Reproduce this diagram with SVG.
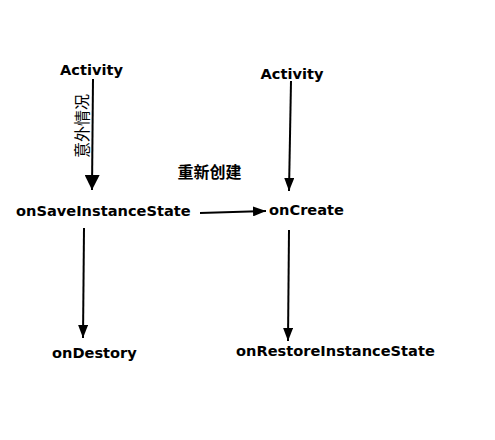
<svg xmlns="http://www.w3.org/2000/svg" width="495" height="440" viewBox="0 0 495 440">
<style>
.lbl{font-family:"DejaVu Sans","Liberation Sans",sans-serif;font-weight:bold;font-size:14.6px;fill:#000}
.cjk{font-family:"Noto Sans CJK SC",sans-serif;font-size:16px;fill:#000}
.edge{stroke:#000;stroke-width:2;fill:none}
</style>
<defs>
<marker id="ah" markerUnits="userSpaceOnUse" markerWidth="14" markerHeight="10" refX="13" refY="5" orient="auto">
<path d="M0,0 L13,5 L0,10 Z" fill="#000"/>
</marker>
<marker id="ahBig" markerUnits="userSpaceOnUse" markerWidth="16" markerHeight="15" refX="15" refY="7.5" orient="auto">
<path d="M0,0 L15,7.5 L0,15 Z" fill="#000"/>
</marker>
</defs>
<rect width="495" height="440" fill="#fff"/>
<g id="connectors">
<path class="edge" d="M93,79 L92,190" marker-end="url(#ahBig)"/>
<path class="edge" d="M291,81 L289,191" marker-end="url(#ah)"/>
<path class="edge" d="M200,213 L266,211" marker-end="url(#ah)"/>
<path class="edge" d="M84,228 L83,338" marker-end="url(#ah)"/>
<path class="edge" d="M289,230 L288,341" marker-end="url(#ah)"/>
<text class="cjk" transform="translate(88,126) rotate(-90)" text-anchor="middle">意外情况</text>
<text class="cjk" x="209.5" y="178" text-anchor="middle" font-weight="bold" font-size="16.5">重新创建</text>
</g>
<g id="activity1"><text class="lbl" x="91.5" y="75" text-anchor="middle">Activity</text></g>
<g id="activity2"><text class="lbl" x="292" y="79" text-anchor="middle">Activity</text></g>
<g id="onSaveInstanceState"><text class="lbl" x="16" y="216">onSaveInstanceState</text></g>
<g id="onCreate"><text class="lbl" x="269" y="215">onCreate</text></g>
<g id="onDestory"><text class="lbl" x="52" y="358">onDestory</text></g>
<g id="onRestoreInstanceState"><text class="lbl" x="236" y="356">onRestoreInstanceState</text></g>
</svg>
